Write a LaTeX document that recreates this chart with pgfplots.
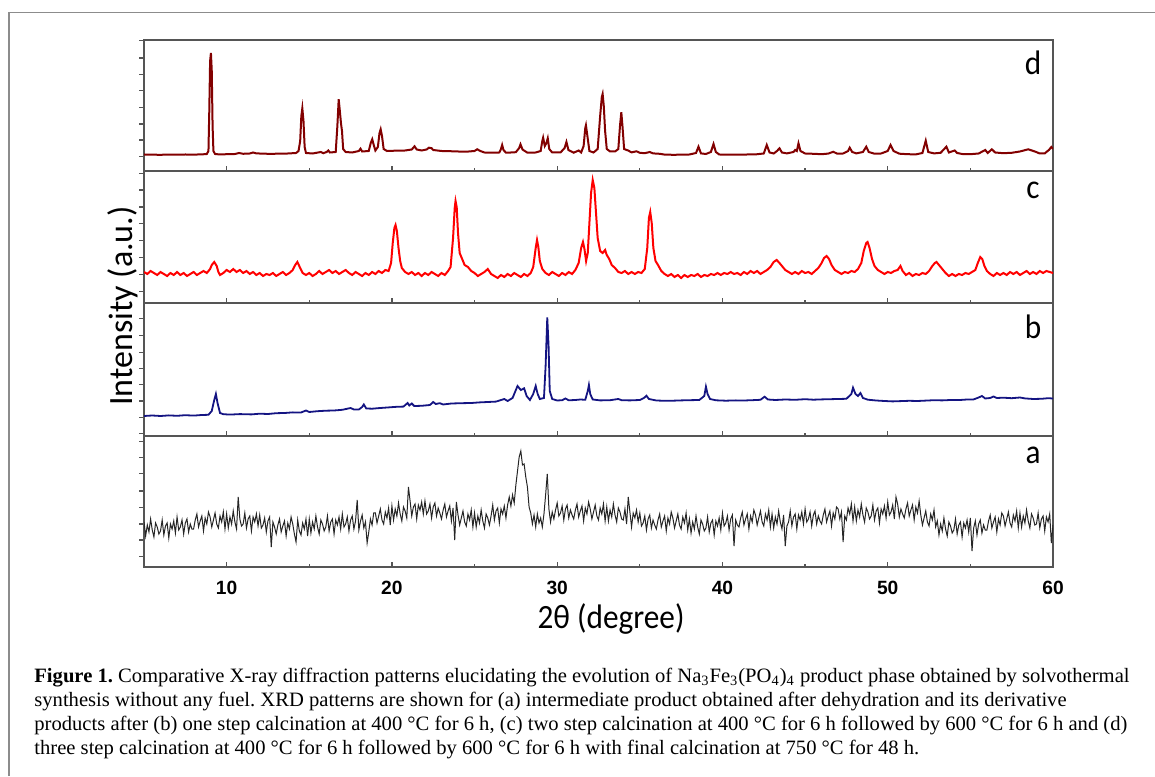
\documentclass[border=0pt]{standalone}
\usepackage{fontspec}
\usepackage{pgfplots}
\pgfplotsset{compat=1.18}
\setmainfont{Liberation Sans}
\newfontfamily\labfont[FakeStretch=0.92]{Carlito}
\newfontfamily\ylabfont{Carlito}
\newfontfamily\tickfont{Liberation Sans}
\newfontfamily\capfont[FakeStretch=1.01]{Liberation Serif}
\definecolor{dred}{RGB}{130,0,0}
\definecolor{cred}{RGB}{255,0,0}
\definecolor{bnavy}{RGB}{20,20,130}
\definecolor{framec}{RGB}{85,85,85}
\definecolor{boxc}{RGB}{140,140,140}

% one px of the reference = 0.5pt; y data are px above each panel's bottom
\pgfplotsset{xrdpanel/.style={
  scale only axis, width=454.5pt, anchor=south west,
  xmin=5, xmax=60, ymin=0,
  axis line style={framec, line width=0.7pt},
  xtick={10,20,...,60}, minor xtick={15,25,...,55},
  xtick pos=bottom, ytick pos=left,
  xtick align=inside, ytick align=outside,
  major tick length=2.4pt, minor tick length=1.6pt,
  every tick/.style={framec, line width=0.6pt},
  yticklabels={}, xticklabels={},
}}

\begin{document}
\frenchspacing
\begin{tikzpicture}
\useasboundingbox (0,0) rectangle (577.5pt,388pt);
\draw[boxc, line width=0.75pt] (4.5pt,0) -- (4.5pt,381.75pt) -- (577.5pt,381.75pt);

% (d)
\begin{axis}[xrdpanel, at={(72pt,302.5pt)}, height=65.5pt, ymax=131,
  ytick={14.3,31,47,63.3,80.3,96.7,113,130.3}]
\addplot[dred, line width=1pt] coordinates {
(5,16.5) (5.5,16.3) (6,16.2) (6.5,16.4) (7,16.3) (7.5,16.5) (8,16.4) (8.5,16.6) (8.8,17) (8.9,20) (8.95,60) (9.0,110) (9.05,118) (9.1,100) (9.15,45) (9.2,20) (9.3,17) (9.6,16.5)
(10,16.8) (10.5,17) (10.75,18) (11,17.2) (11.4,17.5) (11.6,18.5) (11.8,17.6) (12.5,17.2) (13.5,17.3) (14.2,18) (14.35,20) (14.45,30) (14.52,55) (14.58,62.7) (14.65,50) (14.72,24) (14.8,18)
(15.2,17.5) (15.7,19) (15.85,17.8) (16.05,19) (16.15,20.5) (16.25,18.5) (16.6,19) (16.7,45) (16.78,71.7) (16.85,60) (16.92,47.5) (16.98,40) (17.05,22) (17.2,19) (17.6,18.5)
(18.0,20) (18.1,22.3) (18.2,19.5) (18.6,20) (18.72,28) (18.81,31.7) (18.9,26) (19.0,20.5) (19.15,24) (19.25,38) (19.32,41.7) (19.4,35) (19.5,22) (19.7,20)
(20.2,20.3) (20.8,20.5) (21.2,21.5) (21.37,24.7) (21.5,21.5) (21.8,20.5) (22.1,21.5) (22.24,23.3) (22.4,22.8) (22.5,21) (23,20) (23.5,19.8) (24,19.5) (24.5,19.3)
(25,20) (25.16,21.7) (25.35,20) (25.6,18.5) (26,18.3) (26.5,18.5) (26.6,22) (26.67,26) (26.75,21) (26.9,18.3) (27.2,18.5) (27.5,18.8) (27.7,23) (27.78,26.7) (27.9,21.5) (28.2,18.3) (28.7,18.5)
(29,20) (29.1,30) (29.15,33.3) (29.25,25) (29.35,28) (29.43,32.7) (29.52,22) (29.7,18.5) (30.2,18.5) (30.45,23) (30.56,29) (30.68,21) (31,18.3) (31.3,20.5) (31.45,18.5)
(31.6,25) (31.7,43) (31.74,45.7) (31.82,36) (31.95,20) (32.2,18.5) (32.45,22) (32.6,55) (32.7,74) (32.75,77) (32.82,65) (32.9,40) (33,22) (33.2,19.5) (33.5,19.5)
(33.7,22) (33.8,45) (33.88,58.7) (33.95,45) (34.05,22) (34.2,21) (34.3,20.5) (34.4,19.5) (34.5,18.6) (34.8,19.7) (35.0,18.2) (35.3,17.8) (35.6,19) (35.8,17.6) (36.2,17.2) (36.5,16.4)
(37,16.2) (37.5,16.3) (38,16.5) (38.4,18) (38.55,24.3) (38.7,17.6) (39,17) (39.3,19) (39.46,27) (39.6,19) (39.8,16.5) (40.5,16.4) (41,16.3) (41.5,16.5) (42,16.6) (42.5,17.5)
(42.68,26) (42.85,18.5) (43.1,17.5) (43.3,20) (43.45,22.7) (43.6,18.5) (43.9,17.6) (44.3,19) (44.4,21) (44.5,20) (44.6,27.7) (44.72,20) (45,17.5) (45.5,17.2) (46,16.8) (46.4,17.4)
(46.7,19.2) (46.95,17.3) (47.3,17.5) (47.6,20) (47.7,23.3) (47.85,19) (48.1,17.6) (48.5,19) (48.7,24.3) (48.85,19) (49.2,17.3) (49.6,17.5) (50,20) (50.17,26) (50.35,20) (50.7,17.3)
(51.2,16.8) (51.7,16.6) (52.1,18) (52.3,30.3) (52.45,19) (52.8,17.6) (53.2,18.2) (53.55,24.3) (53.7,18.5) (54.05,20.5) (54.2,18) (54.5,17) (55,16.8) (55.5,17.5) (55.9,21) (56.05,18)
(56.3,21.7) (56.5,18.5) (57,17.8) (57.5,18.2) (58,19.5) (58.5,21.7) (58.9,19.5) (59.2,17.5) (59.5,17.6) (59.75,21) (59.9,24) (60,22)
};
\end{axis}

% (c)
\begin{axis}[xrdpanel, at={(72pt,236.5pt)}, height=66pt, ymax=132,
  ytick={11.3,28.3,45.3,62.3,79.3,96,113,129.7}]
\addplot[cred, line width=1pt] coordinates {
(5.0,31) (5.2,29) (5.4,32) (5.6,30) (5.8,28) (6.0,31) (6.2,29) (6.4,27) (6.6,30) (6.8,28) (7.0,31) (7.2,28) (7.4,30) (7.6,27) (7.8,29) (8.0,31) (8.2,28) (8.4,30) (8.6,32) (8.8,30)
(9.0,34) (9.1,38) (9.25,41) (9.4,37) (9.5,31) (9.6,28) (9.8,30) (10.0,33) (10.2,31) (10.4,34) (10.6,31) (10.8,33) (11.0,30) (11.2,32) (11.4,29) (11.6,31) (11.8,28) (12.0,30)
(12.2,27) (12.4,29) (12.6,28) (12.8,30) (13.0,27) (13.2,29) (13.4,31) (13.6,28) (13.8,30) (14.0,33) (14.15,38) (14.28,41) (14.45,35) (14.6,30) (14.8,28) (15.0,30) (15.2,27)
(15.4,29) (15.6,32) (15.8,29) (16.0,31) (16.2,33) (16.4,30) (16.6,32) (16.8,29) (17.0,31) (17.2,33) (17.4,30) (17.6,28) (17.8,31) (18.0,29) (18.2,27) (18.4,30) (18.6,28)
(18.8,31) (19.0,29) (19.2,32) (19.4,30) (19.6,33) (19.8,32) (19.95,40) (20.05,60) (20.15,75) (20.22,78) (20.3,72) (20.4,55) (20.5,42) (20.6,35) (20.8,31) (21.0,29) (21.2,31)
(21.4,28) (21.6,30) (21.8,27) (22.0,30) (22.2,28) (22.4,31) (22.6,29) (22.8,27) (23.0,30) (23.2,28) (23.4,32) (23.55,36) (23.7,65) (23.8,95) (23.85,102) (23.92,96) (24.0,70)
(24.1,50) (24.25,44) (24.4,38) (24.6,36) (24.8,32) (25.0,30) (25.2,27) (25.4,29) (25.6,31) (25.8,34) (26.0,29) (26.2,27) (26.4,25) (26.6,28) (26.8,26) (27.0,29) (27.2,27)
(27.4,30) (27.6,28) (27.8,26) (28.0,29) (28.2,27) (28.4,30) (28.55,36) (28.7,55) (28.78,63) (28.86,56) (28.95,42) (29.1,34) (29.3,30) (29.5,28) (29.7,31) (29.9,29) (30.1,27)
(30.3,30) (30.5,28) (30.7,31) (30.9,29) (31.1,33) (31.3,40) (31.45,55) (31.56,61) (31.65,54) (31.75,42) (31.85,50) (31.95,80) (32.05,110) (32.15,123) (32.25,115) (32.35,90)
(32.45,65) (32.6,52) (32.75,50) (32.9,53) (33.0,48) (33.15,44) (33.3,38) (33.5,35) (33.7,31) (33.9,30) (34.1,32) (34.3,29) (34.5,31) (34.7,29) (34.9,31) (35.1,30) (35.3,34)
(35.45,55) (35.55,85) (35.63,91) (35.72,80) (35.82,55) (35.95,42) (36.1,38) (36.3,32) (36.5,29) (36.7,27) (36.9,29) (37.1,26) (37.3,28) (37.5,25) (37.7,28) (37.9,26) (38.1,28)
(38.3,27) (38.5,29) (38.7,26) (38.9,28) (39.1,27) (39.3,29) (39.5,28) (39.7,30) (39.9,28) (40.1,30) (40.3,29) (40.5,31) (40.7,29) (40.9,30) (41.1,28) (41.3,31) (41.5,29)
(41.7,32) (41.9,30) (42.1,32) (42.3,29) (42.5,31) (42.7,33) (42.9,36) (43.1,41) (43.28,43) (43.45,40) (43.6,37) (43.8,33) (44.0,31) (44.2,29) (44.4,31) (44.6,29) (44.8,32)
(45.0,30) (45.2,31) (45.4,29) (45.6,32) (45.8,35) (46.0,40) (46.15,45) (46.3,47) (46.45,44) (46.6,38) (46.8,33) (47.0,31) (47.2,29) (47.4,31) (47.6,30) (47.8,32) (48.0,31)
(48.2,34) (48.4,40) (48.55,52) (48.7,60) (48.78,61) (48.9,55) (49.05,44) (49.2,37) (49.4,33) (49.6,31) (49.8,29) (50.0,31) (50.2,30) (50.4,32) (50.6,33) (50.77,37) (50.9,32)
(51.1,28) (51.3,30) (51.5,27) (51.7,29) (51.9,28) (52.1,30) (52.3,29) (52.5,32) (52.7,37) (52.85,40) (52.95,41) (53.1,38) (53.3,34) (53.5,30) (53.7,27) (53.9,29) (54.1,27)
(54.3,29) (54.5,28) (54.7,30) (54.9,29) (55.1,31) (55.3,33) (55.45,40) (55.6,46) (55.72,44) (55.85,37) (56.0,32) (56.2,29) (56.4,27) (56.6,30) (56.8,28) (57.0,30) (57.2,28)
(57.4,31) (57.6,29) (57.8,31) (58.0,28) (58.2,30) (58.4,32) (58.6,29) (58.8,31) (59.0,29) (59.2,32) (59.4,30) (59.6,32) (59.8,31) (60.0,30)
};
\end{axis}

% (b)
\begin{axis}[xrdpanel, at={(72pt,170pt)}, height=66.5pt, ymax=133,
  ytick={2.7,18.7,35,51.7,67.7,83.7,100.3,117.7}]
\addplot[bnavy, line width=0.9pt] coordinates {
(5,20) (5.5,20.5) (6,20) (6.5,20.6) (7,20.2) (7.5,20.8) (8,20.4) (8.5,21) (8.9,21.2) (9.1,25) (9.25,36) (9.35,42) (9.45,33) (9.6,23) (9.8,21.8) (10.2,21.4) (10.8,21.9)
(11.5,21.6) (12,22.3) (12.5,22) (13,22.8) (13.5,23) (14,23.6) (14.5,23.5) (14.8,25.5) (15,24) (15.5,24.8) (16,25.3) (16.5,25.5) (17,26.2) (17.5,28) (17.7,26.5) (18,26.5)
(18.2,29) (18.3,31.5) (18.45,27.5) (18.8,27.3) (19.3,28) (19.8,28.6) (20.3,29.2) (20.7,29.4) (20.95,33) (21.05,30.5) (21.2,32.5) (21.35,30) (21.8,30.2) (22.3,31) (22.5,34)
(22.65,32) (22.9,32.8) (23.1,31.5) (23.6,32.5) (24.2,32.8) (24.8,33) (25.3,33.6) (25.8,34) (26.3,34.4) (26.8,37) (27,35) (27.3,38) (27.6,50) (27.8,46) (28.0,47.7) (28.15,40)
(28.35,36) (28.55,42) (28.7,50) (28.82,42) (28.95,37) (29.2,38) (29.3,70) (29.4,118.7) (29.48,90) (29.55,45) (29.7,37) (30,35.5) (30.3,35.8) (30.5,37.5) (30.7,35.7) (31.1,36)
(31.4,36.5) (31.7,36.2) (31.85,45) (31.92,51) (32.0,42) (32.15,36.5) (32.6,35.6) (33.2,35.8) (33.7,37) (33.9,35.8) (34.4,35.6) (35,36) (35.25,38) (35.4,40.3) (35.55,37) (36,35.5)
(36.5,35.2) (37,35.3) (37.5,35.6) (38,35.8) (38.6,36) (38.9,40) (39.0,49.3) (39.1,42) (39.25,37) (39.6,35.7) (40.2,35.3) (40.8,35.6) (41.3,35.5) (41.8,35.8) (42.3,36.2)
(42.55,39.3) (42.75,36.5) (43.2,36) (43.8,36.5) (44.4,36.2) (45,36.8) (45.5,36.3) (46,36.6) (46.5,36.8) (47,37) (47.5,37.2) (47.8,42) (47.9,48.3) (48.05,42) (48.2,40) (48.35,43)
(48.5,38) (48.8,36.3) (49.3,35.5) (49.8,35) (50.3,34.6) (50.8,34.9) (51.3,35.2) (51.8,35) (52.3,35.4) (52.8,35.8) (53.3,35.6) (53.8,36) (54.3,35.9) (54.8,36.5) (55.2,36.6)
(55.5,38.5) (55.7,40) (55.9,37.5) (56.2,38) (56.4,39.5) (56.6,38) (57,38.3) (57.5,37.8) (58,38.5) (58.3,37.6) (58.8,37) (59.3,37.2) (59.7,37.8) (60,37.5)
};
\end{axis}

% (a)
\begin{axis}[xrdpanel, at={(72pt,104.5pt)}, height=65.5pt, ymax=131,
  ytick={10.3,27,43,59.7,76,93.7,109.7,125.3},
  xticklabels={10,20,30,40,50,60},
  /pgf/number format/assume math mode=true,
  xticklabel style={font=\tickfont\bfseries\fontsize{9.6}{10}\selectfont, anchor=base, yshift=-13.5pt}]
\addplot[black!85, line width=0.5pt] coordinates {
(5.0,45) (5.1,31) (5.2,42) (5.3,35) (5.4,48) (5.5,37) (5.6,30) (5.7,44) (5.8,40) (5.9,33)
(6.0,36) (6.1,47) (6.2,32) (6.3,41) (6.4,44) (6.5,29) (6.6,43) (6.7,38) (6.8,46) (6.9,34)
(7.0,50) (7.1,37) (7.2,40) (7.3,47) (7.4,33) (7.5,44) (7.6,48) (7.7,35) (7.8,43) (7.9,38)
(8.0,38) (8.1,47) (8.2,53) (8.3,40) (8.4,46) (8.5,51) (8.6,36) (8.7,49) (8.8,43) (8.9,55)
(9.0,50) (9.1,40) (9.2,47) (9.3,54) (9.4,43) (9.5,39) (9.6,51) (9.7,45) (9.8,55) (9.9,38)
(10.0,53) (10.1,39) (10.2,50) (10.3,43) (10.4,56) (10.5,45) (10.6,38) (10.7,70) (10.8,48) (10.9,41)
(11.0,43) (11.1,54) (11.2,39) (11.3,48) (11.4,51) (11.5,36) (11.6,50) (11.7,45) (11.8,53) (11.9,41)
(12.0,52) (12.1,39) (12.2,42) (12.3,49) (12.4,35) (12.5,46) (12.6,50) (12.7,20) (12.8,45) (12.9,40)
(13.0,33) (13.1,42) (13.2,48) (13.3,35) (13.4,41) (13.5,46) (13.6,31) (13.7,44) (13.8,38) (13.9,50)
(14.0,43) (14.1,33) (14.2,25) (14.3,47) (14.4,36) (14.5,32) (14.6,44) (14.7,38) (14.8,48) (14.9,31)
(15.0,48) (15.1,34) (15.2,45) (15.3,38) (15.4,51) (15.5,40) (15.6,33) (15.7,47) (15.8,43) (15.9,36)
(16.0,40) (16.1,51) (16.2,36) (16.3,45) (16.4,48) (16.5,33) (16.6,47) (16.7,42) (16.8,50) (16.9,38)
(17.0,53) (17.1,40) (17.2,43) (17.3,50) (17.4,36) (17.5,47) (17.6,51) (17.7,38) (17.8,46) (17.9,67)
(18.0,37) (18.1,46) (18.2,52) (18.3,39) (18.4,45) (18.5,24) (18.6,35) (18.7,48) (18.8,42) (18.9,54)
(19.0,54) (19.1,44) (19.2,51) (19.3,58) (19.4,47) (19.5,43) (19.6,55) (19.7,49) (19.8,59) (19.9,42)
(20.0,61) (20.1,47) (20.2,58) (20.3,51) (20.4,64) (20.5,53) (20.6,46) (20.7,60) (20.8,56) (20.9,49)
(21.0,80) (21.1,66) (21.2,51) (21.3,60) (21.4,63) (21.5,48) (21.6,62) (21.7,57) (21.8,65) (21.9,53)
(22.0,66) (22.1,53) (22.2,56) (22.3,63) (22.4,49) (22.5,60) (22.6,64) (22.7,51) (22.8,59) (22.9,54)
(23.0,48) (23.1,57) (23.2,63) (23.3,50) (23.4,56) (23.5,61) (23.6,46) (23.7,59) (23.8,27) (23.9,65)
(24.0,52) (24.1,42) (24.2,49) (24.3,56) (24.4,45) (24.5,41) (24.6,53) (24.7,47) (24.8,57) (24.9,40)
(25.0,54) (25.1,40) (25.2,51) (25.3,44) (25.4,57) (25.5,46) (25.6,39) (25.7,53) (25.8,49) (25.9,42)
(26.0,51) (26.1,62) (26.2,47) (26.3,56) (26.4,59) (26.5,44) (26.6,58) (26.7,53) (26.8,61) (26.9,49)
(27.0,62) (27.1,70) (27.2,61) (27.3,72) (27.4,64) (27.5,82) (27.6,96) (27.7,110) (27.8,116) (27.9,102)
(28.0,103) (28.1,90) (28.2,80) (28.3,60) (28.4,54) (28.5,43) (28.6,52) (28.7,40) (28.8,53) (28.9,44)
(29.0,49) (29.1,40) (29.2,53) (29.3,72) (29.4,93) (29.5,58) (29.6,45) (29.7,55) (29.8,48) (29.9,57)
(30.0,64) (30.1,51) (30.2,54) (30.3,61) (30.4,47) (30.5,58) (30.6,62) (30.7,49) (30.8,57) (30.9,52)
(31.0,48) (31.1,57) (31.2,63) (31.3,50) (31.4,56) (31.5,61) (31.6,46) (31.7,59) (31.8,53) (31.9,65)
(32.0,58) (32.1,48) (32.2,55) (32.3,62) (32.4,51) (32.5,47) (32.6,59) (32.7,53) (32.8,63) (32.9,46)
(33.0,60) (33.1,46) (33.2,57) (33.3,50) (33.4,63) (33.5,52) (33.6,45) (33.7,59) (33.8,55) (33.9,48)
(34.0,47) (34.1,58) (34.2,43) (34.3,70) (34.4,55) (34.5,40) (34.6,54) (34.7,49) (34.8,57) (34.9,45)
(35.0,54) (35.1,41) (35.2,44) (35.3,51) (35.4,37) (35.5,48) (35.6,52) (35.7,39) (35.8,47) (35.9,42)
(36.0,38) (36.1,47) (36.2,53) (36.3,40) (36.4,46) (36.5,51) (36.6,36) (36.7,49) (36.8,43) (36.9,55)
(37.0,49) (37.1,39) (37.2,46) (37.3,53) (37.4,42) (37.5,38) (37.6,50) (37.7,44) (37.8,54) (37.9,37)
(38.0,48) (38.1,34) (38.2,45) (38.3,38) (38.4,51) (38.5,40) (38.6,33) (38.7,47) (38.8,43) (38.9,36)
(39.0,39) (39.1,50) (39.2,35) (39.3,44) (39.4,47) (39.5,32) (39.6,46) (39.7,41) (39.8,49) (39.9,37)
(40.0,54) (40.1,41) (40.2,44) (40.3,51) (40.4,37) (40.5,48) (40.6,52) (40.7,21) (40.8,47) (40.9,42)
(41.0,40) (41.1,49) (41.2,55) (41.3,42) (41.4,48) (41.5,53) (41.6,38) (41.7,51) (41.8,45) (41.9,57)
(42.0,52) (42.1,42) (42.2,49) (42.3,56) (42.4,45) (42.5,41) (42.6,53) (42.7,47) (42.8,57) (42.9,40)
(43.0,53) (43.1,39) (43.2,50) (43.3,43) (43.4,56) (43.5,45) (43.6,38) (43.7,52) (43.8,21) (43.9,41)
(44.0,45) (44.1,56) (44.2,41) (44.3,50) (44.4,53) (44.5,38) (44.6,52) (44.7,47) (44.8,55) (44.9,43)
(45.0,58) (45.1,45) (45.2,48) (45.3,55) (45.4,41) (45.5,52) (45.6,56) (45.7,43) (45.8,51) (45.9,46)
(46.0,43) (46.1,52) (46.2,58) (46.3,45) (46.4,51) (46.5,56) (46.6,41) (46.7,54) (46.8,48) (46.9,60)
(47.0,58) (47.1,48) (47.2,55) (47.3,25) (47.4,51) (47.5,47) (47.6,59) (47.7,53) (47.8,63) (47.9,46)
(48.0,60) (48.1,46) (48.2,57) (48.3,50) (48.4,63) (48.5,52) (48.6,45) (48.7,59) (48.8,55) (48.9,48)
(49.0,51) (49.1,62) (49.2,47) (49.3,56) (49.4,59) (49.5,44) (49.6,58) (49.7,53) (49.8,61) (49.9,49)
(50.0,65) (50.1,52) (50.2,55) (50.3,62) (50.4,48) (50.5,70) (50.6,63) (50.7,50) (50.8,58) (50.9,53)
(51.0,49) (51.1,58) (51.2,64) (51.3,51) (51.4,57) (51.5,62) (51.6,47) (51.7,60) (51.8,54) (51.9,66)
(52.0,52) (52.1,42) (52.2,49) (52.3,56) (52.4,45) (52.5,41) (52.6,53) (52.7,47) (52.8,57) (52.9,40)
(53.0,46) (53.1,32) (53.2,43) (53.3,36) (53.4,49) (53.5,38) (53.6,31) (53.7,45) (53.8,41) (53.9,34)
(54.0,37) (54.1,48) (54.2,33) (54.3,42) (54.4,45) (54.5,30) (54.6,44) (54.7,39) (54.8,47) (54.9,35)
(55.0,49) (55.1,16) (55.2,39) (55.3,46) (55.4,32) (55.5,43) (55.6,47) (55.7,34) (55.8,42) (55.9,37)
(56.0,37) (56.1,46) (56.2,52) (56.3,39) (56.4,45) (56.5,50) (56.6,35) (56.7,48) (56.8,42) (56.9,54)
(57.0,51) (57.1,41) (57.2,48) (57.3,55) (57.4,44) (57.5,40) (57.6,52) (57.7,46) (57.8,56) (57.9,39)
(58.0,54) (58.1,40) (58.2,51) (58.3,44) (58.4,57) (58.5,46) (58.6,39) (58.7,53) (58.8,49) (58.9,42)
(59.0,43) (59.1,54) (59.2,39) (59.3,48) (59.4,51) (59.5,36) (59.6,50) (59.7,45) (59.8,53) (59.9,24)
(60.0,42)
};
\end{axis}

\begin{scope}[font=\labfont\fontsize{17}{20}\selectfont]
\node at (516.5pt,356.5pt) {d};
\node at (516.5pt,293pt) {c};
\node at (516.5pt,224.5pt) {b};
\node at (516.5pt,160.5pt) {a};
\node[anchor=base] at (305.5pt,74pt) {2θ (degree)};
\end{scope}
\node[anchor=base, rotate=90, font=\ylabfont\fontsize{17}{20}\selectfont] at (66pt,235pt) {Intensity (a.u.)};

\begin{scope}[font=\capfont\fontsize{10.2}{12}\selectfont]
\node[anchor=base west, inner sep=0pt] at (17pt,47pt) {\textbf{Figure 1.} Comparative X-ray diffraction patterns elucidating the evolution of Na\textsubscript{3}Fe\textsubscript{3}(PO\textsubscript{4})\textsubscript{4} product phase obtained by solvothermal};
\node[anchor=base west, inner sep=0pt] at (17pt,35pt) {synthesis without any fuel. XRD patterns are shown for (a) intermediate product obtained after dehydration and its derivative};
\node[anchor=base west, inner sep=0pt] at (17pt,23pt) {products after (b) one step calcination at 400~°C for 6 h, (c) two step calcination at 400~°C for 6 h followed by 600~°C for 6 h and (d)};
\node[anchor=base west, inner sep=0pt] at (17pt,11pt) {three step calcination at 400~°C for 6 h followed by 600~°C for 6 h with final calcination at 750~°C for 48 h.};
\end{scope}
\end{tikzpicture}
\end{document}
